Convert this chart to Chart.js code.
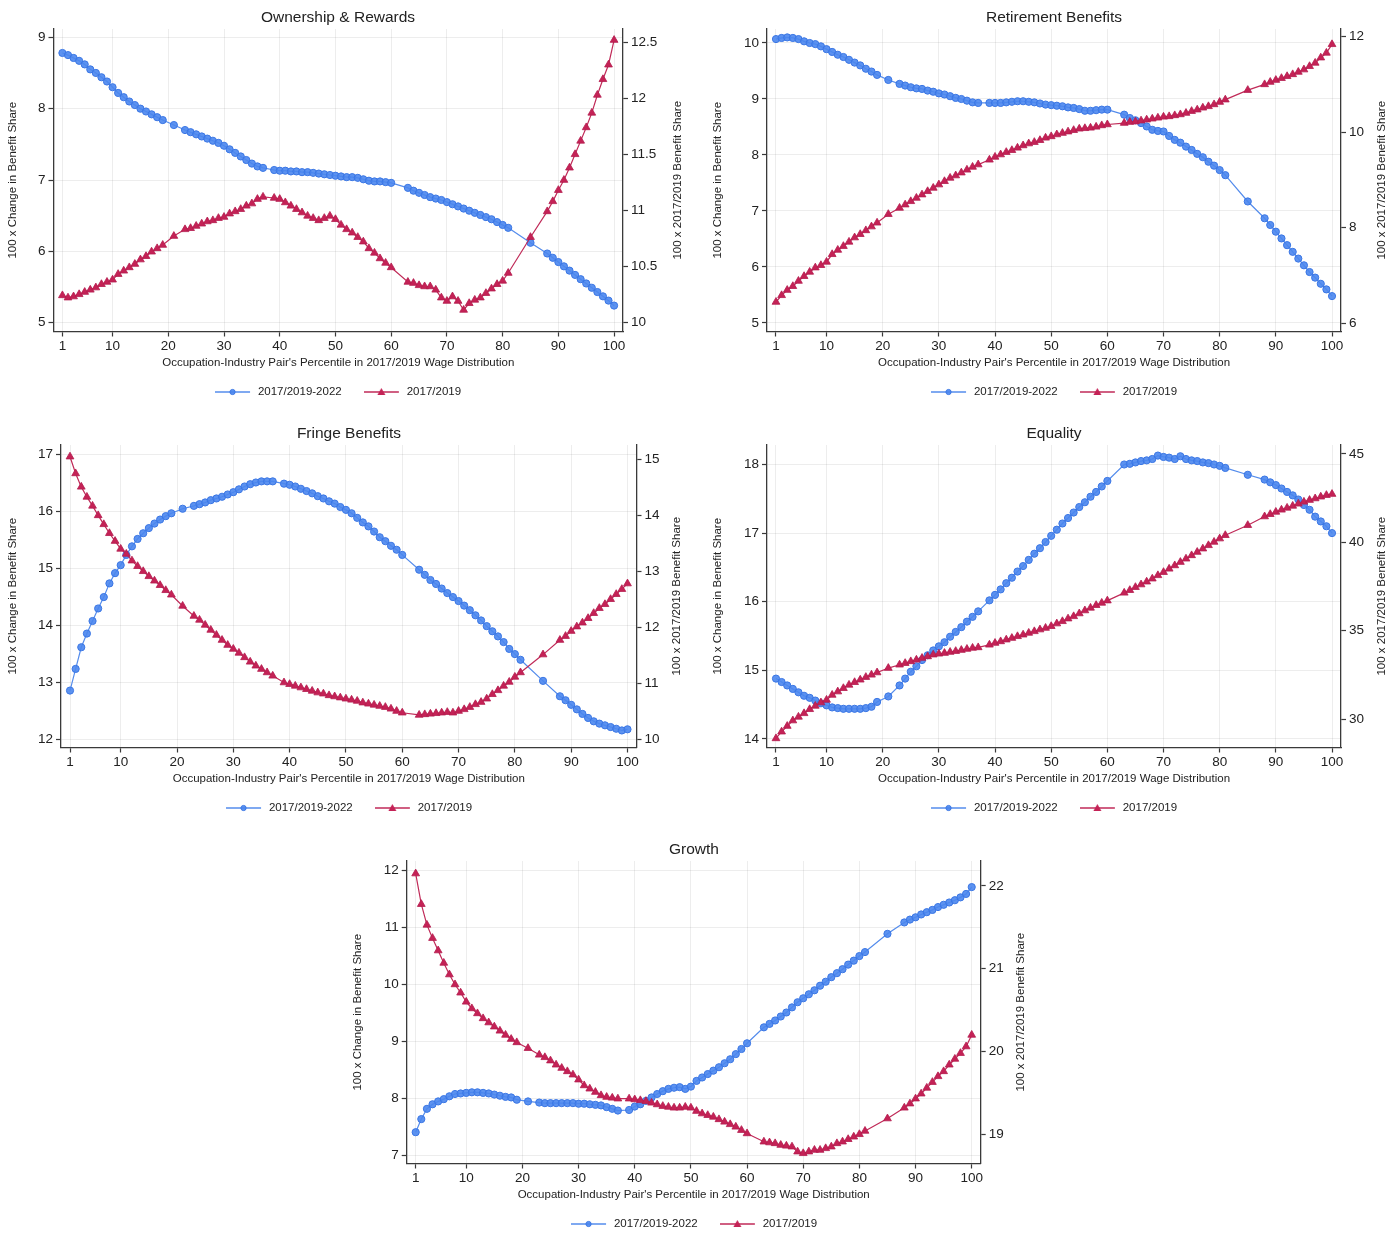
<!DOCTYPE html>
<html><head><meta charset="utf-8">
<script src="https://cdn.jsdelivr.net/npm/chart.js@4.4.1/dist/chart.umd.min.js"></script>
<style>
html,body{margin:0;padding:0;background:#fff;overflow:hidden;}
#wrap{position:relative;width:1397px;height:1234px;overflow:hidden;background:#fff;}
</style></head><body>
<div id="wrap"></div>
<script>
// ---------- DATA ----------
const xs = [1,2,3,4,5,6,7,8,9,10,11,12,13,14,15,16,17,18,19,
  21,
  23,24,25,26,27,28,29,30,31,32,33,34,35,36,37,
  39,40,41,42,43,44,45,46,47,48,49,50,51,52,53,54,55,56,57,58,59,60,
  63,64,65,66,67,68,69,70,71,72,73,74,75,76,77,78,79,80,81,
  85,
  88,89,90,91,92,93,94,95,96,97,98,99,100];
const xTicks = [1,10,20,30,40,50,60,70,80,90,100];
const seriesNames = ['2017/2019-2022','2017/2019'];

const ownBlue = [8.78,8.75,8.71,8.67,8.62,8.55,8.5,8.44,8.38,8.3,8.22,8.16,8.1,8.05,8.0,7.96,7.92,7.88,7.84,
  7.77,
  7.7,7.67,7.64,7.61,7.58,7.55,7.52,7.48,7.43,7.38,7.33,7.28,7.23,7.19,7.17,
  7.14,7.13,7.13,7.12,7.12,7.11,7.11,7.1,7.09,7.08,7.07,7.06,7.05,7.04,7.04,7.03,7.01,6.99,6.98,6.98,6.97,6.96,
  6.89,6.85,6.82,6.79,6.76,6.74,6.72,6.69,6.66,6.63,6.6,6.57,6.54,6.51,6.48,6.45,6.41,6.37,6.33,
  6.12,
  5.97,5.91,5.85,5.79,5.73,5.67,5.61,5.55,5.49,5.43,5.37,5.31,5.24];
const ownRed = [10.24,10.22,10.23,10.25,10.27,10.29,10.31,10.34,10.36,10.38,10.43,10.46,10.49,10.52,10.56,10.59,10.63,10.66,10.69,
  10.77,
  10.83,10.84,10.86,10.88,10.9,10.91,10.93,10.94,10.97,10.99,11.01,11.04,11.06,11.1,11.12,
  11.11,11.1,11.07,11.04,11.01,10.98,10.95,10.93,10.91,10.93,10.95,10.92,10.87,10.83,10.8,10.76,10.72,10.66,10.62,10.57,10.53,10.49,
  10.36,10.35,10.33,10.32,10.32,10.29,10.22,10.19,10.23,10.19,10.11,10.17,10.2,10.22,10.26,10.3,10.34,10.37,10.44,
  10.76,
  10.99,11.08,11.18,11.27,11.38,11.5,11.62,11.74,11.87,12.03,12.17,12.3,12.52];
const ownLeftTicks = [5,6,7,8,9];
const ownRightTicks = [10,10.5,11,11.5,12,12.5];

const retBlue = [10.07,10.09,10.1,10.09,10.07,10.03,10.0,9.98,9.94,9.89,9.84,9.79,9.75,9.7,9.65,9.6,9.54,9.49,9.43,
  9.34,
  9.27,9.24,9.21,9.19,9.18,9.15,9.13,9.1,9.08,9.05,9.02,9.0,8.97,8.94,8.93,
  8.93,8.93,8.93,8.94,8.95,8.96,8.96,8.95,8.94,8.92,8.9,8.89,8.88,8.87,8.85,8.84,8.82,8.79,8.79,8.8,8.81,8.81,
  8.72,8.66,8.62,8.57,8.51,8.45,8.43,8.42,8.34,8.27,8.22,8.15,8.09,8.02,7.96,7.88,7.81,7.73,7.64,
  7.17,
  6.87,6.75,6.63,6.51,6.39,6.27,6.15,6.03,5.91,5.81,5.7,5.6,5.48];
const retRed = [6.44,6.58,6.69,6.77,6.88,6.98,7.07,7.16,7.21,7.28,7.44,7.53,7.61,7.7,7.79,7.86,7.94,8.02,8.1,
  8.28,
  8.41,8.48,8.55,8.62,8.69,8.76,8.83,8.9,8.97,9.04,9.09,9.15,9.21,9.27,9.32,
  9.42,9.48,9.53,9.58,9.62,9.67,9.72,9.76,9.79,9.83,9.88,9.91,9.95,9.98,10.01,10.04,10.07,10.08,10.09,10.11,10.14,10.16,
  10.19,10.21,10.22,10.24,10.26,10.28,10.3,10.32,10.33,10.35,10.37,10.4,10.44,10.47,10.51,10.54,10.58,10.63,10.68,
  10.88,
  11.0,11.05,11.09,11.13,11.17,11.21,11.26,11.31,11.38,11.45,11.56,11.66,11.84];
const retLeftTicks = [5,6,7,8,9,10];
const retRightTicks = [6,8,10,12];

const frBlue = [12.85,13.23,13.61,13.85,14.07,14.29,14.49,14.73,14.91,15.05,15.23,15.38,15.51,15.61,15.7,15.78,15.85,15.91,15.96,
  16.04,
  16.09,16.12,16.15,16.19,16.22,16.25,16.29,16.33,16.38,16.43,16.47,16.5,16.52,16.52,16.52,
  16.48,16.46,16.43,16.39,16.35,16.31,16.26,16.22,16.17,16.13,16.07,16.02,15.96,15.88,15.8,15.73,15.64,15.54,15.47,15.39,15.32,15.23,
  14.97,14.88,14.79,14.72,14.64,14.56,14.49,14.42,14.34,14.26,14.17,14.08,13.98,13.89,13.8,13.7,13.58,13.49,13.39,
  13.02,
  12.75,12.68,12.6,12.52,12.44,12.37,12.31,12.27,12.24,12.21,12.18,12.15,12.17];
const frRed = [15.05,14.75,14.51,14.33,14.17,14.0,13.84,13.68,13.54,13.4,13.31,13.19,13.09,13.0,12.91,12.83,12.75,12.66,12.58,
  12.38,
  12.2,12.13,12.04,11.95,11.86,11.77,11.68,11.61,11.54,11.46,11.38,11.31,11.25,11.19,11.13,
  11.01,10.98,10.95,10.92,10.89,10.86,10.83,10.81,10.78,10.76,10.74,10.72,10.7,10.68,10.65,10.63,10.61,10.59,10.57,10.54,10.5,10.47,
  10.43,10.44,10.45,10.46,10.47,10.48,10.47,10.5,10.53,10.57,10.62,10.66,10.72,10.8,10.87,10.95,11.02,11.11,11.19,
  11.51,
  11.77,11.84,11.93,12.01,12.08,12.16,12.25,12.34,12.41,12.5,12.59,12.68,12.78];
const frLeftTicks = [12,13,14,15,16,17];
const frRightTicks = [10,11,12,13,14,15];

const eqBlue = [14.88,14.83,14.78,14.73,14.68,14.63,14.6,14.56,14.52,14.49,14.46,14.45,14.44,14.44,14.44,14.44,14.45,14.47,14.54,
  14.62,
  14.78,14.88,14.98,15.06,15.15,15.22,15.29,15.35,15.41,15.49,15.56,15.63,15.71,15.78,15.86,
  16.02,16.1,16.18,16.27,16.35,16.44,16.52,16.61,16.7,16.78,16.87,16.96,17.05,17.14,17.22,17.3,17.38,17.45,17.53,17.6,17.68,17.76,
  18.0,18.01,18.03,18.05,18.06,18.08,18.13,18.11,18.1,18.08,18.12,18.08,18.06,18.05,18.03,18.02,18.0,17.98,17.95,
  17.85,
  17.78,17.74,17.7,17.65,17.6,17.55,17.49,17.41,17.34,17.24,17.17,17.1,17.0];
const eqRed = [28.9,29.28,29.6,29.91,30.12,30.32,30.55,30.74,30.93,31.08,31.36,31.55,31.74,31.93,32.08,32.22,32.37,32.5,32.63,
  32.88,
  33.07,33.16,33.26,33.35,33.45,33.54,33.64,33.69,33.73,33.79,33.84,33.9,33.96,34.02,34.05,
  34.2,34.3,34.39,34.49,34.58,34.68,34.77,34.87,34.96,35.06,35.15,35.25,35.4,35.53,35.68,35.81,35.97,36.14,36.29,36.44,36.57,36.7,
  37.14,37.29,37.46,37.61,37.77,37.94,38.13,38.31,38.5,38.69,38.88,39.07,39.26,39.45,39.64,39.83,40.02,40.21,40.4,
  40.97,
  41.46,41.59,41.72,41.84,41.95,42.06,42.18,42.29,42.39,42.48,42.58,42.67,42.73];
const eqLeftTicks = [14,15,16,17,18];
const eqRightTicks = [30,35,40,45];

const grBlue = [7.4,7.63,7.81,7.89,7.94,7.98,8.03,8.07,8.08,8.09,8.1,8.1,8.09,8.08,8.06,8.04,8.02,8.01,7.97,
  7.94,
  7.92,7.91,7.91,7.91,7.91,7.91,7.91,7.9,7.9,7.89,7.88,7.87,7.84,7.81,7.78,
  7.79,7.85,7.89,7.95,8.01,8.07,8.12,8.16,8.18,8.19,8.16,8.2,8.3,8.36,8.42,8.48,8.54,8.61,8.68,8.77,8.86,8.96,
  9.24,9.3,9.36,9.43,9.5,9.59,9.68,9.75,9.82,9.89,9.97,10.04,10.12,10.19,10.26,10.34,10.41,10.49,10.56,
  10.88,
  11.08,11.13,11.17,11.22,11.26,11.3,11.35,11.39,11.43,11.47,11.52,11.58,11.7];
const grRed = [22.15,21.78,21.53,21.37,21.22,21.07,20.93,20.81,20.71,20.6,20.52,20.46,20.4,20.35,20.3,20.25,20.2,20.15,20.11,
  20.04,
  19.96,19.93,19.89,19.84,19.8,19.76,19.72,19.66,19.59,19.55,19.51,19.47,19.45,19.44,19.43,
  19.43,19.42,19.41,19.4,19.38,19.36,19.34,19.33,19.32,19.32,19.33,19.32,19.28,19.25,19.23,19.21,19.18,19.15,19.12,19.09,19.05,19.01,
  18.91,18.9,18.89,18.87,18.86,18.85,18.79,18.77,18.79,18.81,18.81,18.83,18.85,18.89,18.91,18.94,18.97,19.0,19.04,
  19.19,
  19.32,19.37,19.43,19.49,19.56,19.63,19.7,19.76,19.84,19.91,19.98,20.06,20.2];
const grLeftTicks = [7,8,9,10,11,12];
const grRightTicks = [19,20,21,22];

// ---------- LAYOUT / STYLE ----------
const FONT = "'Liberation Sans', Arial, sans-serif";
const BLUE_LINE = 'rgb(84,140,236)', BLUE_FILL = 'rgba(74,134,238,0.9)', BLUE_EDGE = 'rgb(58,118,228)';
const RED_LINE = 'rgb(192,42,88)', RED_FILL = 'rgb(196,34,86)', RED_EDGE = 'rgb(180,28,78)';
const GRID = 'rgba(0,0,0,0.07)', AX = '#3a3a3a', TXT = '#222';

const panels = [
  {title:'Ownership & Rewards', blue:ownBlue, red:ownRed, lt:ownLeftTicks, rt:ownRightTicks,
   lmin:4.877, lmax:9.116, rmin:9.918, rmax:12.619, L:53.5, R:623, base:0, ltx:13, rtx:678},
  {title:'Retirement Benefits', blue:retBlue, red:retRed, lt:retLeftTicks, rt:retRightTicks,
   lmin:4.848, lmax:10.25, rmin:5.822, rmax:12.161, L:767, R:1341, base:0, ltx:718, rtx:1382},
  {title:'Fringe Benefits', blue:frBlue, red:frRed, lt:frLeftTicks, rt:frRightTicks,
   lmin:11.851, lmax:17.158, rmin:9.848, rmax:15.259, L:61, R:636.5, base:416, ltx:13, rtx:677},
  {title:'Equality', blue:eqBlue, red:eqRed, lt:eqLeftTicks, rt:eqRightTicks,
   lmin:13.876, lmax:18.284, rmin:28.387, rmax:45.509, L:767, R:1341, base:416, ltx:718, rtx:1382},
  {title:'Growth', blue:grBlue, red:grRed, lt:grLeftTicks, rt:grRightTicks,
   lmin:6.851, lmax:12.158, rmin:18.647, rmax:22.302, L:406.7, R:980.7, base:832, ltx:358, rtx:1021}
];

function legendImg(kind) {
  const c = document.createElement('canvas');
  c.width = 37; c.height = 12;
  const g = c.getContext('2d');
  g.strokeStyle = kind === 'b' ? BLUE_LINE : RED_LINE;
  g.lineWidth = 1.3;
  g.beginPath(); g.moveTo(0, 6); g.lineTo(35, 6); g.stroke();
  if (kind === 'b') {
    g.fillStyle = BLUE_FILL; g.strokeStyle = BLUE_EDGE; g.lineWidth = 1;
    g.beginPath(); g.arc(17.5, 6, 2.6, 0, Math.PI * 2); g.fill(); g.stroke();
  } else {
    g.fillStyle = RED_FILL;
    g.beginPath(); g.moveTo(17.5, 2); g.lineTo(21.5, 9); g.lineTo(13.5, 9); g.closePath(); g.fill();
  }
  return c;
}
const imgB = legendImg('b'), imgR = legendImg('r');

const rightTitle = {
  id: 'rtitle',
  afterDraw(chart, args, opts) {
    const {ctx, chartArea} = chart;
    ctx.save();
    ctx.font = '11.5px ' + FONT;
    ctx.fillStyle = TXT;
    ctx.textAlign = 'center';
    ctx.textBaseline = 'middle';
    ctx.translate(opts.x, (chartArea.top + chartArea.bottom) / 2);
    ctx.rotate(-Math.PI / 2);
    ctx.fillText(opts.text, 0, 0);
    ctx.restore();
  }
};

const wrap = document.getElementById('wrap');
const W = 704, HC = 410;

panels.forEach(p => {
  const center = (p.L + p.R) / 2;
  const cl = Math.round(center - W / 2);
  const cv = document.createElement('canvas');
  cv.width = W; cv.height = HC;
  cv.style.cssText = 'position:absolute;left:' + cl + 'px;top:' + p.base + 'px;width:' + W + 'px;height:' + HC + 'px;';
  wrap.appendChild(cv);
  const leftW = p.L - cl, rightW = cl + W - p.R;
  const tickFont = {size: 13.5, family: FONT};
  const axFont = {size: 11.5, family: FONT};

  new Chart(cv, {
    type: 'line',
    data: {
      datasets: [
        {label: seriesNames[0], data: xs.map((x, i) => ({x: x, y: p.blue[i]})), yAxisID: 'yL', order: 1,
         borderColor: BLUE_LINE, borderWidth: 1.2, pointStyle: 'circle', pointRadius: 3.6,
         pointBackgroundColor: BLUE_FILL, pointBorderColor: BLUE_EDGE, pointBorderWidth: 1, tension: 0},
        {label: seriesNames[1], data: xs.map((x, i) => ({x: x, y: p.red[i]})), yAxisID: 'yR', order: 0,
         borderColor: RED_LINE, borderWidth: 1.2, pointStyle: 'triangle', pointRadius: 4.5,
         pointBackgroundColor: RED_FILL, pointBorderColor: RED_EDGE, pointBorderWidth: 0.8, tension: 0}
      ]
    },
    options: {
      responsive: false, animation: false, events: [],
      layout: {padding: {left: 0, right: 0, top: 0, bottom: 2.25}},
      plugins: {
        tooltip: {enabled: false},
        title: {display: true, text: p.title, color: TXT, font: {size: 15.5, family: FONT, weight: 'normal'},
                padding: {top: 8.5, bottom: 1.9}},
        legend: {
          position: 'bottom',
          labels: {
            usePointStyle: true, pointStyleWidth: 37.25, padding: 22, color: TXT, font: axFont,
            generateLabels: () => [
              {text: seriesNames[0], pointStyle: imgB, fillStyle: 'transparent', strokeStyle: 'transparent', lineWidth: 0, hidden: false, datasetIndex: 0, fontColor: TXT},
              {text: seriesNames[1], pointStyle: imgR, fillStyle: 'transparent', strokeStyle: 'transparent', lineWidth: 0, hidden: false, datasetIndex: 1, fontColor: TXT}
            ]
          }
        },
        rtitle: {x: p.rtx - cl, text: '100 x 2017/2019 Benefit Share'}
      },
      scales: {
        x: {
          type: 'linear', min: -0.6, max: 101.6,
          afterBuildTicks: s => { s.ticks = xTicks.map(v => ({value: v})); },
          afterFit: s => { s.height = 32.75; },
          grid: {color: GRID, tickColor: AX, tickLength: 5, tickWidth: 1.2},
          border: {color: AX, width: 1.3},
          ticks: {font: tickFont, color: TXT, padding: 2, maxRotation: 0, autoSkip: false, callback: v => String(v)},
          title: {display: true, text: "Occupation-Industry Pair's Percentile in 2017/2019 Wage Distribution",
                  font: axFont, color: TXT, padding: {top: 0, bottom: -5.65}}
        },
        yL: {
          type: 'linear', position: 'left', min: p.lmin, max: p.lmax,
          afterBuildTicks: s => { s.ticks = p.lt.map(v => ({value: v})); },
          afterFit: s => { s.width = leftW; },
          grid: {color: GRID, tickColor: AX, tickLength: 5, tickWidth: 1.2},
          border: {color: AX, width: 1.3},
          ticks: {font: tickFont, color: TXT, padding: 3, callback: v => String(v)},
          title: {display: true, text: '100 x Change in Benefit Share', font: axFont, color: TXT,
                  padding: {top: p.ltx - cl - 6.9, bottom: 0}}
        },
        yR: {
          type: 'linear', position: 'right', min: p.rmin, max: p.rmax,
          afterBuildTicks: s => { s.ticks = p.rt.map(v => ({value: v})); },
          afterFit: s => { s.width = rightW; },
          grid: {drawOnChartArea: false, tickColor: AX, tickLength: 5, tickWidth: 1.2},
          border: {color: AX, width: 1.3},
          ticks: {font: tickFont, color: TXT, padding: 3, callback: v => String(v)}
        }
      }
    },
    plugins: [rightTitle]
  });
});
</script>
</body></html>
